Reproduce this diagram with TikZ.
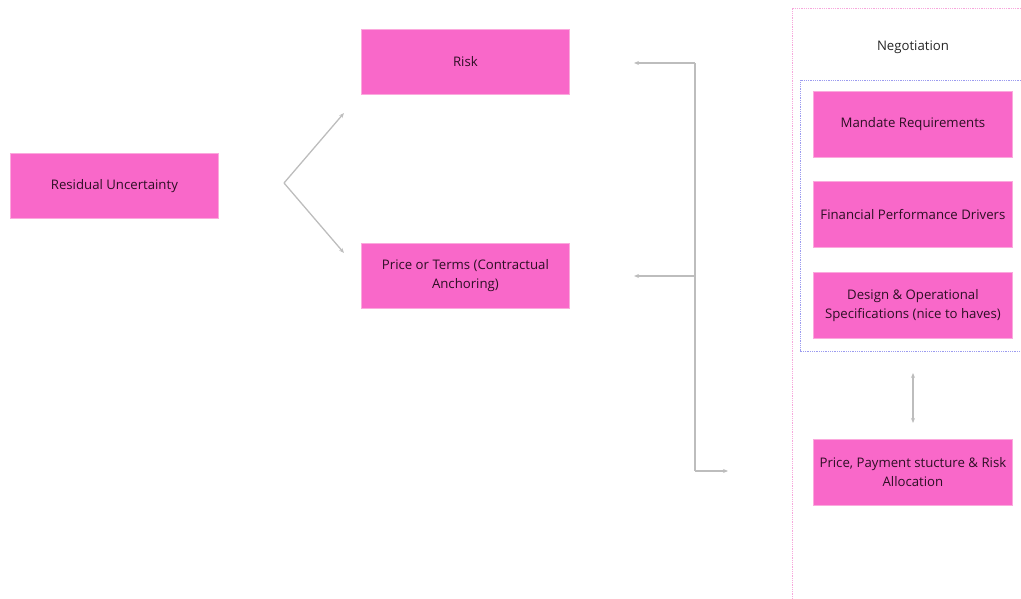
\documentclass[tikz,border=0pt]{standalone}
\usepackage{fontspec}
\setmainfont{Open Sans}
\usetikzlibrary{arrows.meta}
\definecolor{boxpink}{HTML}{F968C9}
\definecolor{boxedge}{HTML}{FBA9DD}
\definecolor{boxtext}{HTML}{2E0F25}
\definecolor{linkgrey}{HTML}{BDBDBD}
\definecolor{framepink}{HTML}{F7A8DC}
\definecolor{frameblue}{HTML}{9C9CF0}
\tikzset{
  box/.style={draw=boxedge, line width=0.8pt, fill=boxpink, text=boxtext,
    minimum width=208pt, minimum height=65pt, inner sep=0pt, align=center,
    font=\fontsize{13.2}{19}\selectfont, anchor=north west},
  nbox/.style={box, minimum width=199pt, minimum height=66pt},
  link/.style={draw=linkgrey, line width=1.3pt, -{Stealth[length=5pt,width=4pt]}},
  dlink/.style={draw=linkgrey, line width=1.3pt, {Stealth[length=5pt,width=4pt]}-{Stealth[length=5pt,width=4pt]}},
}
\begin{document}
\begin{tikzpicture}[x=1pt,y=-1pt]
\useasboundingbox (0,0) rectangle (1021,599);
% negotiation frames
\draw[framepink, densely dotted, line width=0.8pt] (1030,8) -- (792,8) -- (792,610);
\draw[frameblue, densely dotted, line width=0.8pt] (1030,80) -- (800,80) -- (800,351) -- (1030,351);
\node[font=\fontsize{13.2}{15}\selectfont, text=black!85] (neg) at (913,47) {Negotiation};

% boxes
\node[box] (res) at (10,153) {Residual Uncertainty};
\node[box] (risk) at (361,29) {Risk};
\node[box] (price) at (361,243) {Price or Terms (Contractual\\Anchoring)};
\node[nbox] (mand) at (813,91) {Mandate Requirements};
\node[nbox] (fin) at (813,181) {Financial Performance Drivers};
\node[nbox] (des) at (813,272) {Design \& Operational\\Specifications (nice to haves)};
\node[nbox] (pay) at (813,439) {Price, Payment stucture \& Risk\\Allocation};

% fork from residual uncertainty
\coordinate (fork) at (284,183);
\coordinate (forkup) at (344,113);
\coordinate (forkdn) at (344,253);
\draw[link] (fork) -- (forkup);
\draw[link] (fork) -- (forkdn);

% bracket feeding risk / price / negotiation
\coordinate (brtop) at (695,63);
\coordinate (brmid) at (695,276);
\coordinate (brbot) at (695,471);
\coordinate (riskin) at (634,63);
\coordinate (pricein) at (634,276);
\coordinate (negin) at (728,471);
\draw[linkgrey, line width=1.3pt] (brtop) -- (brbot);
\draw[link] (brtop) -- (riskin);
\draw[link] (brmid) -- (pricein);
\draw[link] (brbot) -- (negin);

% link between specification group and pricing
\coordinate (dtop) at (913,373);
\coordinate (dbot) at (913,423);
\draw[dlink] (dtop) -- (dbot);
\end{tikzpicture}
\end{document}
